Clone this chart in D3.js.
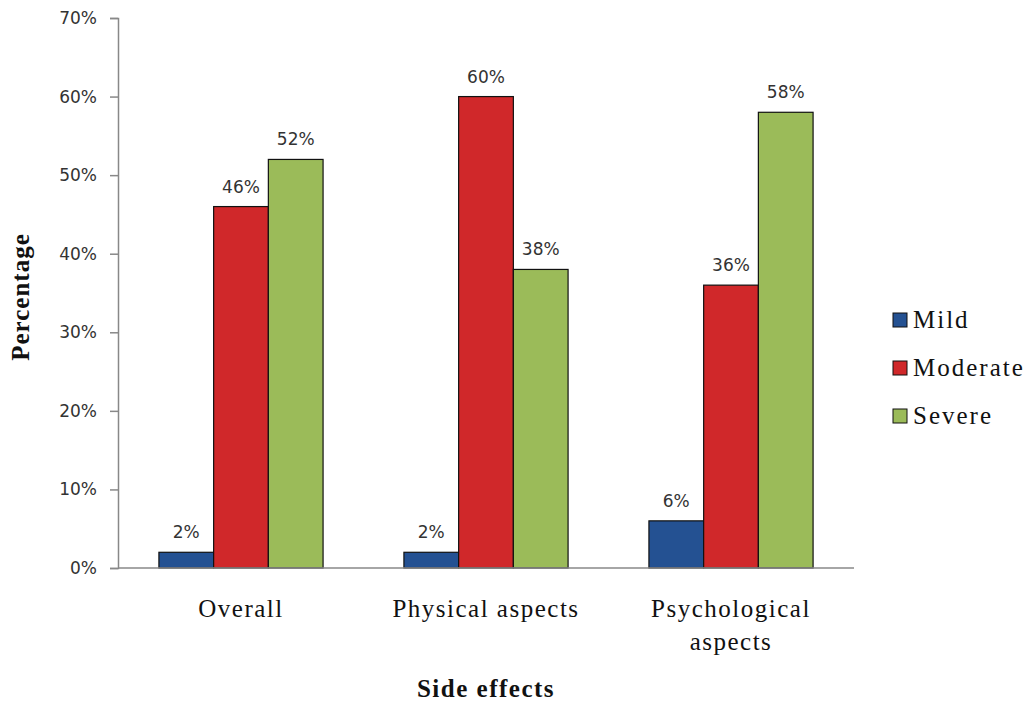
<!DOCTYPE html>
<html>
<head>
<meta charset="utf-8">
<script src="https://cdn.jsdelivr.net/npm/d3@7"></script>
<style>
  body { margin: 0; background: #fff; }
</style>
</head>
<body>
<svg id="chart"></svg>
<script>
// chart data
const categories = [["Overall"], ["Physical aspects"], ["Psychological", "aspects"]];
const severities = ["Mild", "Moderate", "Severe"];
const mild = [2, 2, 6];
const moderate = [46, 60, 36];
const severe = [52, 38, 58];
const yTicks = [0, 10, 20, 30, 40, 50, 60, 70];
const colors = ["#245192", "#d0282a", "#9bbb59"];

const width = 1029, height = 702;
const marginLeft = 118, marginRight = 175, marginTop = 18, marginBottom = 134;
const serif = "'Liberation Serif', 'Times New Roman', serif";
const sans = "Verdana, 'DejaVu Sans', sans-serif";

const svg = d3.select("#chart")
    .attr("width", width)
    .attr("height", height)
    .attr("viewBox", [0, 0, width, height]);

const series = [mild, moderate, severe];
const catIdx = d3.range(categories.length);

const x = d3.scaleBand()
    .domain(catIdx)
    .range([marginLeft, width - marginRight])
    .paddingInner(0.33)
    .paddingOuter(0.167);

const xSub = d3.scaleBand()
    .domain(d3.range(severities.length))
    .range([0, x.bandwidth()]);

const y = d3.scaleLinear()
    .domain([0, 70])
    .range([height - marginBottom, marginTop]);

// y axis
svg.append("g")
    .attr("transform", `translate(${marginLeft},0)`)
    .call(d3.axisLeft(y).tickValues(yTicks).tickFormat(d => d + "%").tickSize(8).tickPadding(13))
    .call(g => g.select(".domain").attr("stroke", "#888").attr("stroke-width", 1.5))
    .call(g => g.selectAll(".tick line").attr("stroke", "#888").attr("stroke-width", 1.5))
    .call(g => g.selectAll(".tick text")
        .attr("font-family", sans)
        .attr("font-size", 17)
        .attr("fill", "#333"));

// bars
const groups = svg.append("g")
  .selectAll("g")
  .data(series)
  .join("g")
    .attr("fill", (d, s) => colors[s]);

groups.selectAll("rect")
  .data((d, s) => d.map((v, i) => ({v, i, s})))
  .join("rect")
    .attr("x", d => x(d.i) + xSub(d.s))
    .attr("y", d => y(d.v))
    .attr("width", xSub.bandwidth())
    .attr("height", d => y(0) - y(d.v))
    .attr("stroke", "#111")
    .attr("stroke-width", 1.2);

// value labels
groups.selectAll("text")
  .data((d, s) => d.map((v, i) => ({v, i, s})))
  .join("text")
    .attr("x", d => x(d.i) + xSub(d.s) + xSub.bandwidth() / 2)
    .attr("y", d => y(d.v) - 14)
    .attr("text-anchor", "middle")
    .attr("font-family", sans)
    .attr("font-size", 17)
    .attr("fill", "#333")
    .text(d => d.v + "%");

// x axis line (drawn over bar bottoms)
svg.append("line")
    .attr("x1", marginLeft)
    .attr("x2", width - marginRight)
    .attr("y1", y(0))
    .attr("y2", y(0))
    .attr("stroke", "#888")
    .attr("stroke-width", 1.5);

// category labels
const catLabels = svg.append("g")
    .attr("font-family", serif)
    .attr("font-size", 25)
    .attr("letter-spacing", 1.5)
    .attr("fill", "#111")
    .attr("text-anchor", "middle");

catIdx.forEach(i => {
  const cx = x(i) + x.bandwidth() / 2;
  const t = catLabels.append("text")
      .attr("x", cx)
      .attr("y", y(0) + 49);
  categories[i].forEach((line, k) => {
    t.append("tspan")
        .attr("x", cx)
        .attr("dy", k === 0 ? 0 : 33)
        .text(line);
  });
});

// axis titles
svg.append("text")
    .attr("transform", `translate(29,${(y(0) + y(70)) / 2 + 4}) rotate(-90)`)
    .attr("text-anchor", "middle")
    .attr("font-family", serif)
    .attr("font-weight", "bold")
    .attr("font-size", 25)
    .attr("letter-spacing", 1)
    .attr("fill", "#111")
    .text("Percentage");

svg.append("text")
    .attr("x", x(1) + x.bandwidth() / 2)
    .attr("y", 697)
    .attr("text-anchor", "middle")
    .attr("font-family", serif)
    .attr("font-weight", "bold")
    .attr("font-size", 25)
    .attr("letter-spacing", 1.5)
    .attr("fill", "#111")
    .text("Side effects");

// legend
const legend = svg.append("g")
    .attr("transform", "translate(893,313)");

const item = legend.selectAll("g")
  .data(severities)
  .join("g")
    .attr("transform", (d, i) => `translate(0,${i * 48})`);

item.append("rect")
    .attr("width", 14)
    .attr("height", 14)
    .attr("fill", (d, i) => colors[i])
    .attr("stroke", "#111")
    .attr("stroke-width", 1);

item.append("text")
    .attr("x", 20)
    .attr("y", 15)
    .attr("font-family", serif)
    .attr("font-size", 25)
    .attr("letter-spacing", 2)
    .attr("fill", "#111")
    .text(d => d);
</script>
</body>
</html>
